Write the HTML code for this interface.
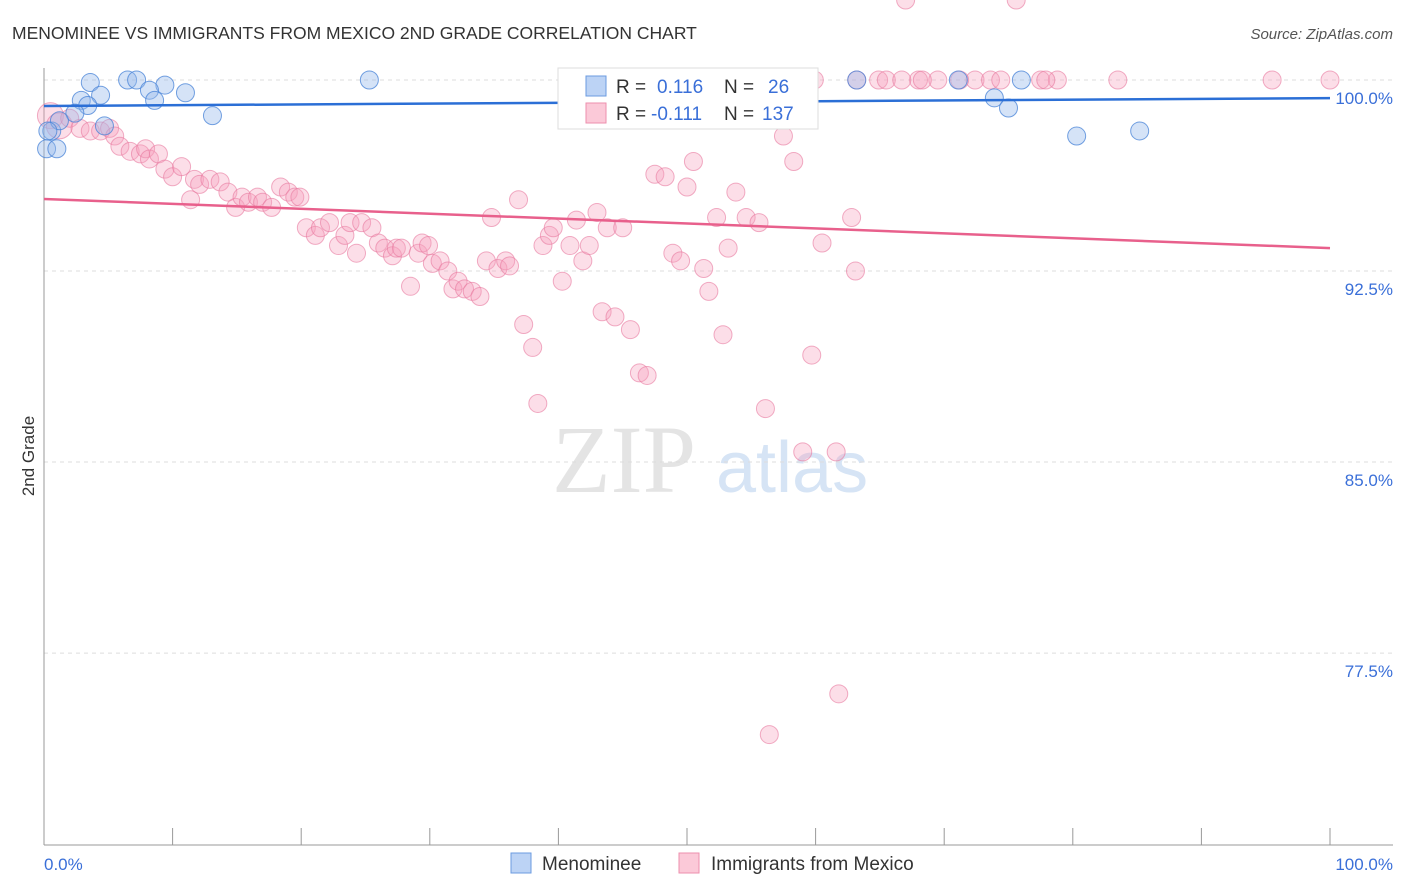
<!DOCTYPE html>
<html><head><meta charset="utf-8"><style>
body{margin:0;background:#fff;font-family:"Liberation Sans",sans-serif;}
svg{display:block}
</style></head><body>
<svg id="chart" width="1406" height="892" viewBox="0 0 1406 892" xmlns="http://www.w3.org/2000/svg">
<text x="12" y="39" font-size="17.5" fill="#333">MENOMINEE VS IMMIGRANTS FROM MEXICO 2ND GRADE CORRELATION CHART</text>
<text x="1393" y="39" font-size="15" fill="#555" font-style="italic" text-anchor="end">Source: ZipAtlas.com</text>
<g>
<text x="552" y="492" font-size="96" font-family="Liberation Serif,serif" fill="#e4e4e4">ZIP</text>
<text x="716" y="492" font-size="72" fill="#d6e4f5">atlas</text>
</g>
<g id="grid"></g>
<g id="axes"></g>
<g id="points"></g>
<g id="trends"></g>
<text transform="translate(34,456) rotate(-90)" font-size="17" fill="#333" text-anchor="middle">2nd Grade</text>
<g>
<rect x="558" y="68" width="260" height="61" fill="#fff" stroke="#ddd"/>
<rect x="586" y="76" width="20" height="20" fill="#bcd3f5" stroke="#6b9be0"/>
<text x="616" y="93" font-size="19" fill="#333">R = </text><text x="657" y="93" font-size="19" fill="#3a6fd8">0.116</text>
<text x="724" y="93" font-size="19" fill="#333">N = </text><text x="768" y="93" font-size="19" fill="#3a6fd8">26</text>
<rect x="586" y="103" width="20" height="20" fill="#fbc9d8" stroke="#ee8fae"/>
<text x="616" y="120" font-size="19" fill="#333">R = </text><text x="651" y="120" font-size="19" fill="#3a6fd8">-0.111</text>
<text x="724" y="120" font-size="19" fill="#333">N = </text><text x="762" y="120" font-size="19" fill="#3a6fd8">137</text>
</g>
<g>
<rect x="511" y="853" width="20" height="20" fill="#bcd3f5" stroke="#6b9be0"/>
<text x="542" y="870" font-size="19" fill="#333">Menominee</text>
<rect x="679" y="853" width="20" height="20" fill="#fbc9d8" stroke="#ee8fae"/>
<text x="711" y="870" font-size="19" fill="#333">Immigrants from Mexico</text>
</g>
</svg>
<script>
const yTicks=[100,92.5,85,77.5];
const yTickLabels=["100.0%","92.5%","85.0%","77.5%"];
const xTickLabels=["0.0%","100.0%"];
const blueX=[0.2,1.0,0.6,3.6,6.5,7.2,9.4,4.4,8.2,8.6,11.0,2.9,3.4,2.4,4.7,13.1,25.3,63.2,71.1,76.0,73.9,75.0,80.3,85.2,1.2,0.3];
const blueY=[97.3,97.3,98.0,99.9,100,100,99.8,99.4,99.6,99.2,99.5,99.2,99.0,98.7,98.2,98.6,100,100,100,100,99.3,98.9,97.8,98.0,98.4,98.0];
const pinkX=[0.5,1.2,2.0,2.8,3.6,4.4,5.1,5.5,5.9,6.7,7.5,7.9,8.2,8.9,9.4,10.0,10.7,11.4,11.7,12.1,12.9,13.7,14.3,14.9,15.4,15.9,16.6,17.0,17.7,18.4,19.0,19.5,19.9,20.4,21.1,21.5,22.2,22.9,23.4,23.8,24.3,24.7,25.5,26.0,26.5,27.1,27.4,27.8,28.5,29.1,29.4,29.9,30.2,30.8,31.4,31.8,32.2,32.7,33.3,33.9,34.4,34.8,35.3,35.9,36.2,36.9,37.3,38.0,38.4,38.8,39.3,39.6,40.3,40.9,41.4,41.9,42.4,43.0,43.4,43.8,44.4,45.0,45.6,46.3,46.9,47.5,48.3,48.9,49.5,50.0,50.5,51.3,51.7,52.3,52.8,53.2,53.8,54.6,55.6,56.1,56.4,57.5,58.3,59.0,59.7,60.5,61.6,61.8,62.8,63.1,64.9,65.5,68.0,100,47.5,51.0,55.6,59.9,63.2,66.7,69.5,72.4,73.6,74.4,77.5,78.8,83.5,95.5,58.8,56.4,52.6,77.9,71.2,68.3,67.0,75.6];
const pinkY=[98.6,98.2,98.5,98.1,98.0,98.0,98.1,97.8,97.4,97.2,97.1,97.3,96.9,97.1,96.5,96.2,96.6,95.3,96.1,95.9,96.1,96.0,95.6,95.0,95.4,95.2,95.4,95.2,95.0,95.8,95.6,95.4,95.4,94.2,93.9,94.2,94.4,93.5,93.9,94.4,93.2,94.4,94.2,93.6,93.4,93.1,93.4,93.4,91.9,93.2,93.6,93.5,92.8,92.9,92.5,91.8,92.1,91.8,91.7,91.5,92.9,94.6,92.6,92.9,92.7,95.3,90.4,89.5,87.3,93.5,93.9,94.2,92.1,93.5,94.5,92.9,93.5,94.8,90.9,94.2,90.7,94.2,90.2,88.5,88.4,96.3,96.2,93.2,92.9,95.8,96.8,92.6,91.7,94.6,90.0,93.4,95.6,94.6,94.4,87.1,74.3,97.8,96.8,85.4,89.2,93.6,85.4,75.9,94.6,92.5,100,100,100,100,100,100,100,100,100,100,100,100,100,100,100,100,100,100,100,100,100,100,100,100];
const blueTrend=[98.98,99.29];
const pinkTrend=[95.33,93.40];
const NS="http://www.w3.org/2000/svg";
const X0=44,X1=1330,YT=80,PXU=25.47;
function sx(p){return X0+(X1-X0)*p/100;}
function sy(v){return YT+(100-v)*PXU;}
function mk(tag,attrs,parent){const e=document.createElementNS(NS,tag);for(const k in attrs)e.setAttribute(k,attrs[k]);parent.appendChild(e);return e;}
const grid=document.getElementById('grid'),axes=document.getElementById('axes'),pts=document.getElementById('points'),tr=document.getElementById('trends');
yTicks.forEach((v,i)=>{
 const l=mk('line',{x1:X0,x2:1393,y1:sy(v),y2:sy(v),stroke:'#ddd','stroke-dasharray':'4,4'},grid);
 
 
 const t=mk('text',{x:1393,y:sy(v)+24,'font-size':17,fill:'#3a6fd8','text-anchor':'end'},axes);
 t.textContent=yTickLabels[i];
 
 
});
const ax=mk('line',{x1:X0,x2:X0,y1:68,y2:845,stroke:'#999'},axes);


const bx=mk('line',{x1:X0,x2:1393,y1:845,y2:845,stroke:'#999'},axes);


for(let i=0;i<=10;i++){
 const t=mk('line',{x1:sx(i*10),x2:sx(i*10),y1:828,y2:845,stroke:'#999'},axes);
 
 
}
[[0,'start',44],[1,'end',1393]].forEach(([i,a,x])=>{
 const t=mk('text',{x:x,y:870,'font-size':17,fill:'#3a6fd8','text-anchor':a},axes);
 t.textContent=xTickLabels[i];
 
 
});
pinkX.forEach((x,i)=>{
 const c=mk('circle',{cx:sx(x),cy:sy(pinkY[i]),r:(i<2?13:9),fill:'rgba(246,160,188,0.35)',stroke:'rgba(232,120,158,0.6)','stroke-width':1},pts);
 
 
});
blueX.forEach((x,i)=>{
 const c=mk('circle',{cx:sx(x),cy:sy(blueY[i]),r:9,fill:'rgba(150,185,235,0.4)',stroke:'rgba(70,130,215,0.75)','stroke-width':1},pts);
 
 
});
const bt=mk('line',{x1:X0,x2:X1,y1:sy(blueTrend[0]),y2:sy(blueTrend[1]),stroke:'#2b6fd6','stroke-width':2.5},tr);


const pt=mk('line',{x1:X0,x2:X1,y1:sy(pinkTrend[0]),y2:sy(pinkTrend[1]),stroke:'#e8608c','stroke-width':2.5},tr);


</script>
</body></html>
